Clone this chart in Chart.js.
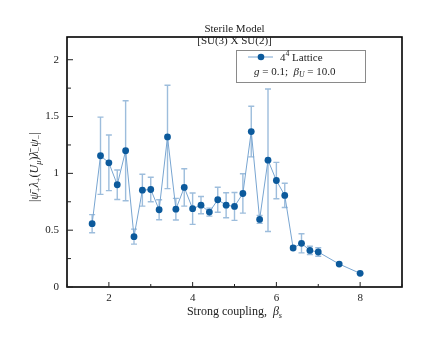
<!DOCTYPE html>
<html>
<head>
<meta charset="utf-8">
<script src="https://cdn.jsdelivr.net/npm/chart.js@4"></script>
<style>
  html, body { margin: 0; padding: 0; background: #fff; }
</style>
</head>
<body>
<canvas id="condChart" width="437" height="338"></canvas>
<script>
// ---- data ----
const betaS = [1.6, 1.8, 2.0, 2.2, 2.4, 2.6, 2.8, 3.0, 3.2, 3.4, 3.6, 3.8, 4.0, 4.2, 4.4,
               4.6, 4.8, 5.0, 5.2, 5.4, 5.6, 5.8, 6.0, 6.2, 6.4, 6.6, 6.8, 7.0, 7.5, 8.0];
const condensate = [0.557, 1.155, 1.093, 0.90, 1.199, 0.443, 0.852, 0.858, 0.68, 1.321, 0.685, 0.876, 0.689, 0.72, 0.659,
                    0.768, 0.72, 0.709, 0.823, 1.368, 0.595, 1.116, 0.937, 0.806, 0.343, 0.384, 0.322, 0.308, 0.202, 0.12];
const condErr = [0.08, 0.34, 0.245, 0.13, 0.44, 0.066, 0.14, 0.108, 0.088, 0.455, 0.095, 0.164, 0.138, 0.076, 0.035,
                 0.11, 0.11, 0.123, 0.173, 0.223, 0.035, 0.627, 0.16, 0.107, 0.015, 0.084, 0.036, 0.038, 0.012, 0.008];
const xTicks = [2, 4, 6, 8];
const xMinor = [1, 3, 5, 7, 9];
const yTicks = [0, 0.5, 1, 1.5, 2];
const yMinor = [0.25, 0.75, 1.25, 1.75];

const SERIF = "'Liberation Serif', 'DejaVu Serif', serif";
const MARK = '#0c5a9c';
const LINE = '#78a5d1';
const ERRC = '#9dbddc';

// draws a run of text pieces: [text, style] with style '', 'i', 'sub', 'isub', 'sup'
function drawRich(ctx, segs, x, y, size, align) {
    const fontFor = st => {
        const small = (st === 'sub' || st === 'isub' || st === 'sup');
        const it = (st === 'i' || st === 'isub');
        return (it ? 'italic ' : '') + (small ? size * 0.7 : size) + 'px ' + SERIF;
    };
    let total = 0;
    segs.forEach(([t, st]) => { ctx.font = fontFor(st); total += ctx.measureText(t).width; });
    let cx = align === 'center' ? x - total / 2 : x;
    ctx.textBaseline = 'middle';
    ctx.textAlign = 'left';
    segs.forEach(([t, st]) => {
        ctx.font = fontFor(st);
        let dy = 0;
        if (st === 'sub' || st === 'isub') dy = size * 0.3;
        if (st === 'sup') dy = -size * 0.35;
        ctx.fillText(t, cx, y + dy);
        cx += ctx.measureText(t).width;
    });
}

const decorations = {
    id: 'decorations',
    beforeDatasetsDraw(chart) {
        const { ctx, scales: { x, y } } = chart;
        ctx.save();
        ctx.strokeStyle = ERRC;
        ctx.lineWidth = 1.4;
        betaS.forEach((b, i) => {
            const px = x.getPixelForValue(b);
            const top = y.getPixelForValue(condensate[i] + condErr[i]);
            const bot = y.getPixelForValue(condensate[i] - condErr[i]);
            ctx.beginPath();
            ctx.moveTo(px, top); ctx.lineTo(px, bot);
            ctx.moveTo(px - 3, top); ctx.lineTo(px + 3, top);
            ctx.moveTo(px - 3, bot); ctx.lineTo(px + 3, bot);
            ctx.stroke();
        });
        ctx.restore();
    },
    afterDraw(chart) {
        const { ctx, chartArea: a, scales: { x, y } } = chart;
        ctx.save();
        // frame
        ctx.strokeStyle = '#000';
        ctx.lineWidth = 1.6;
        ctx.strokeRect(a.left, a.top, a.right - a.left, a.bottom - a.top);
        // inward ticks
        ctx.lineWidth = 1;
        ctx.strokeStyle = '#222';
        ctx.beginPath();
        xTicks.forEach(v => { const p = x.getPixelForValue(v); ctx.moveTo(p, a.bottom); ctx.lineTo(p, a.bottom - 5); });
        xMinor.forEach(v => { const p = x.getPixelForValue(v); ctx.moveTo(p, a.bottom); ctx.lineTo(p, a.bottom - 3); });
        yTicks.forEach(v => { const p = y.getPixelForValue(v); ctx.moveTo(a.left, p); ctx.lineTo(a.left + 6, p); });
        yMinor.forEach(v => { const p = y.getPixelForValue(v); ctx.moveTo(a.left, p); ctx.lineTo(a.left + 4, p); });
        ctx.stroke();

        const cxm = (a.left + a.right) / 2;
        ctx.fillStyle = '#222';
        // titles
        drawRich(ctx, [['Sterile Model', '']], cxm, 29, 11, 'center');
        drawRich(ctx, [['[SU(3) X SU(2)]', '']], cxm, 41, 11, 'center');
        // x axis title
        drawRich(ctx, [['Strong coupling,  ', ''], ['\u03b2', 'i'], ['s', 'isub']], cxm, 312, 12, 'center');
        // y axis title
        ctx.save();
        ctx.translate(35, (a.top + a.bottom) / 2 + 5);
        ctx.rotate(-Math.PI / 2);
        drawRich(ctx, [['|', ''], ['\u03c8\u0304', 'i'], ['+', 'sub'], ['\u03bb', 'i'], ['+', 'sub'],
                       ['(', ''], ['U', 'i'], ['\u03bc', 'isub'], [')', ''], ['\u03bb\u0304', 'i'], ['\u2212', 'sub'],
                       ['\u03c8', 'i'], ['\u2212', 'sub'], ['|', '']], 0, 0, 12, 'center');
        ctx.restore();

        // legend box
        ctx.fillStyle = '#fff';
        ctx.fillRect(236, 50, 129, 32);
        ctx.strokeStyle = '#8a8a8a';
        ctx.lineWidth = 1;
        ctx.strokeRect(236.5, 50.5, 129, 32);
        ctx.strokeStyle = LINE;
        ctx.beginPath(); ctx.moveTo(248, 57); ctx.lineTo(273, 57); ctx.stroke();
        ctx.fillStyle = MARK;
        ctx.beginPath(); ctx.arc(261, 57, 3.3, 0, Math.PI * 2); ctx.fill();
        ctx.fillStyle = '#222';
        drawRich(ctx, [['4', ''], ['4', 'sup'], [' Lattice', '']], 280, 58, 11, 'left');
        drawRich(ctx, [['g', 'i'], [' = 0.1;  ', ''], ['\u03b2', 'i'], ['U', 'isub'], [' = 10.0', '']], 254, 72, 11, 'left');
        ctx.restore();
    }
};

new Chart(document.getElementById('condChart'), {
    type: 'line',
    data: {
        datasets: [{
            data: betaS.map((b, i) => ({ x: b, y: condensate[i] })),
            borderColor: LINE,
            borderWidth: 1,
            pointRadius: 3.4,
            pointBackgroundColor: MARK,
            pointBorderColor: MARK,
            pointBorderWidth: 0,
            tension: 0
        }]
    },
    options: {
        responsive: false,
        animation: false,
        layout: { padding: { top: 37, right: 35, left: 0, bottom: 0 } },
        plugins: { legend: { display: false }, tooltip: { enabled: false } },
        scales: {
            x: {
                type: 'linear', min: 1, max: 9,
                grid: { display: false, drawTicks: false },
                border: { display: false },
                ticks: { font: { family: SERIF, size: 11 }, color: '#222', padding: 5, callback: v => String(v) },
                afterBuildTicks: s => { s.ticks = xTicks.map(v => ({ value: v })); },
                afterFit: s => { s.height = 51; }
            },
            y: {
                type: 'linear', min: 0, max: 2.2,
                grid: { display: false, drawTicks: false },
                border: { display: false },
                ticks: { font: { family: SERIF, size: 11 }, color: '#222', padding: 8, callback: v => String(v) },
                afterBuildTicks: s => { s.ticks = yTicks.map(v => ({ value: v })); },
                afterFit: s => { s.width = 67; }
            }
        }
    },
    plugins: [decorations]
});
</script>
</body>
</html>
